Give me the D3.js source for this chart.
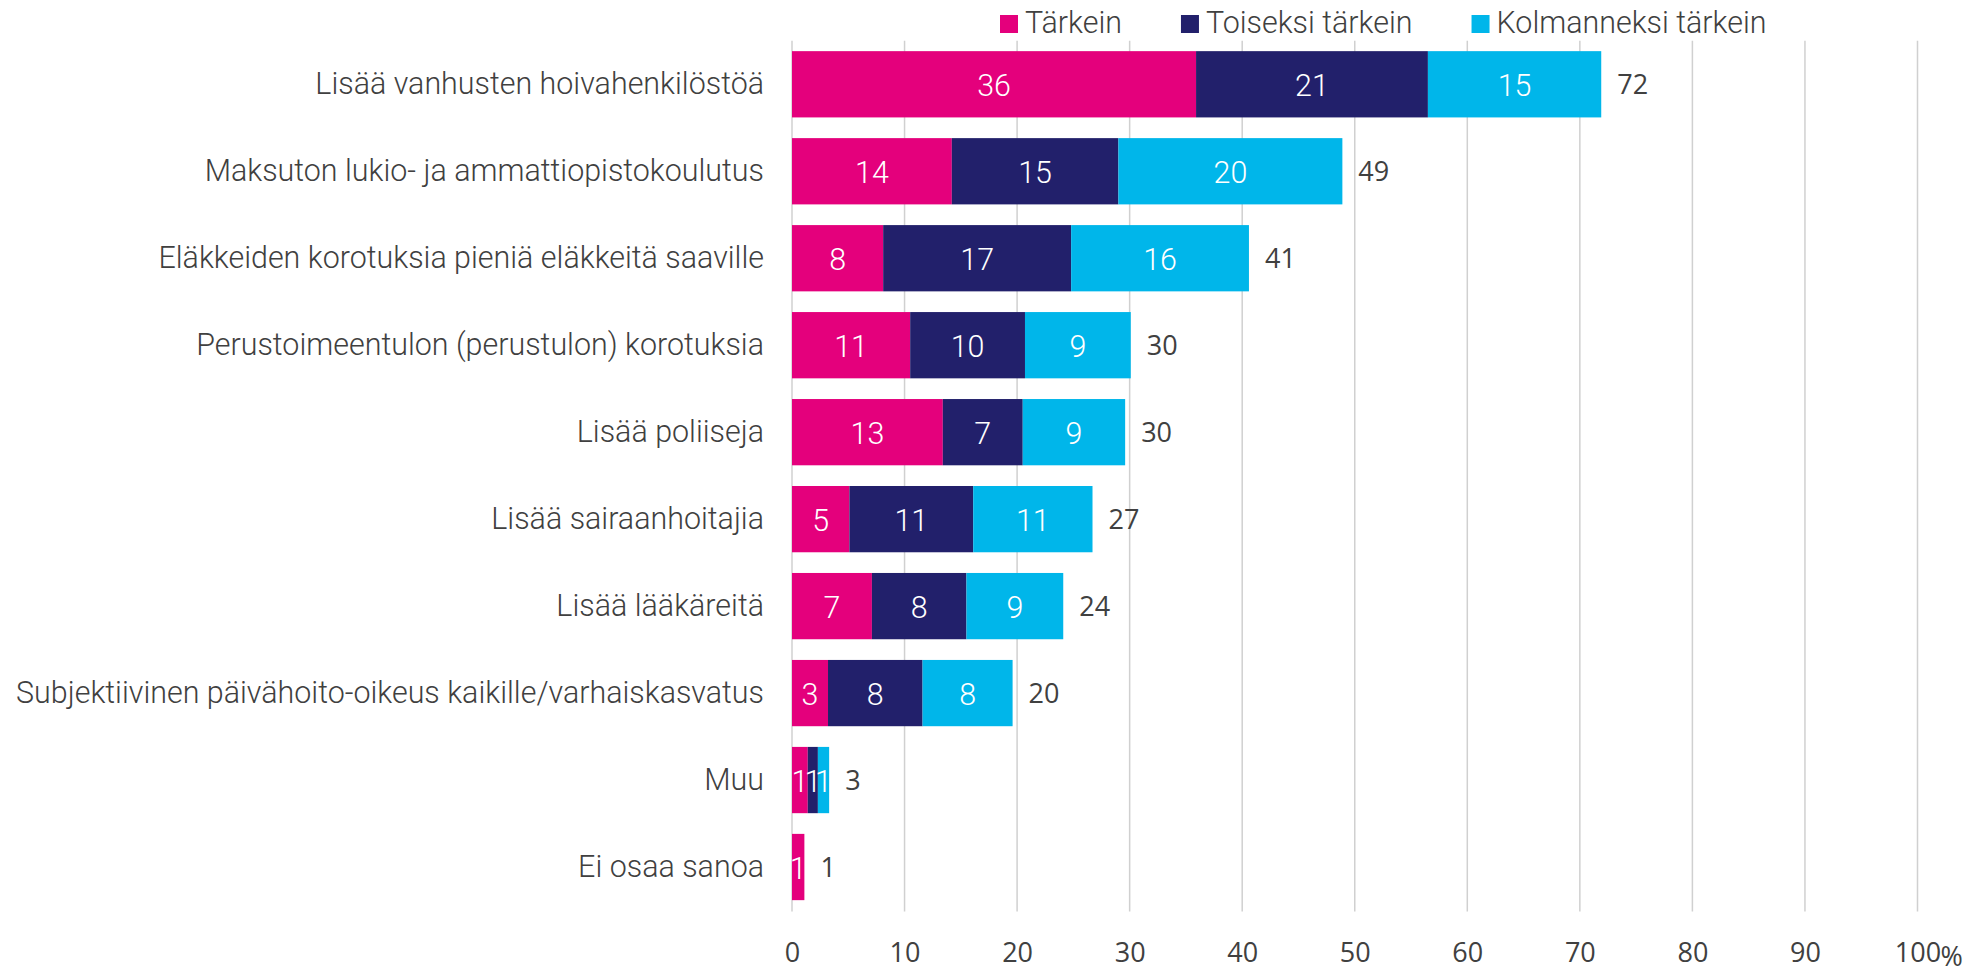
<!DOCTYPE html>
<html>
<head>
<meta charset="utf-8">
<title>Tärkeimmät asiat</title>
<script src="https://cdn.jsdelivr.net/npm/d3@7"></script>
<style>
body{
	margin: 0;
	background: #fff;
}
.cat{
	font-family: Roboto, "Noto Sans", sans-serif;
	font-weight: 300;
	font-size: 32px;
	fill: #404040;
}
.num{
	font-family: "Open Sans", sans-serif;
	font-size: 27px;
	fill: #404040;
}
</style>
</head>
<body>
<svg class="chart"></svg>
<script>

//data
var categories = [
	"Lisää vanhusten hoivahenkilöstöä",
	"Maksuton lukio- ja ammattiopistokoulutus",
	"Eläkkeiden korotuksia pieniä eläkkeitä saaville",
	"Perustoimeentulon (perustulon) korotuksia",
	"Lisää poliiseja",
	"Lisää sairaanhoitajia",
	"Lisää lääkäreitä",
	"Subjektiivinen päivähoito-oikeus kaikille/varhaiskasvatus",
	"Muu",
	"Ei osaa sanoa"
];
var seriesNames = ["Tärkein", "Toiseksi tärkein", "Kolmanneksi tärkein"];
var tarkein     = [35.9, 14.2, 8.1, 10.5, 13.4, 5.1, 7.1, 3.2, 1.4, 1.1];
var toiseksi    = [20.6, 14.8, 16.7, 10.2, 7.1, 11.0, 8.4, 8.4, 0.9, 0];
var kolmanneksi = [15.4, 19.9, 15.8, 9.4, 9.1, 10.6, 8.6, 8.0, 1.0, 0];
var xTicks = [0, 10, 20, 30, 40, 50, 60, 70, 80, 90, 100];

var colors = ["#e4007c", "#22206b", "#00b6ea"];

var rows = categories.map(function(c, i){
	return {cat: c, "Tärkein": tarkein[i], "Toiseksi tärkein": toiseksi[i], "Kolmanneksi tärkein": kolmanneksi[i],
		total: tarkein[i] + toiseksi[i] + kolmanneksi[i]};
});

var width = 1987;
var height = 970;

var svg = d3.select(".chart")
	.attr("width", width)
	.attr("height", height);

// the original face is a narrow one, so squeeze the wide fallback to the same width
var probe = svg.append("text").attr("class", "cat").text(categories[7]);
var squeeze = 748 / probe.node().getComputedTextLength();
probe.remove();

function narrow(sel, dx, dy){
	sel.attr("x", 0).attr("y", 0)
		.attr("transform", function(d){
			return "translate(" + dx(d) + "," + dy(d) + ") scale(" + squeeze + ",1)";
		});
}

var x = d3.scaleLinear()
	.domain([0, 100])
	.range([792, 1917.5]);

var y = d3.scaleBand()
	.domain(categories)
	.range([40.8, 910.5])
	.paddingInner(0.238)
	.paddingOuter(0.119);

// grid
svg.append("g")
	.selectAll("line")
	.data(xTicks)
	.enter()
	.append("line")
	.attr("x1", function(d){ return x(d); })
	.attr("x2", function(d){ return x(d); })
	.attr("y1", y.range()[0])
	.attr("y2", y.range()[1] + 1)
	.attr("stroke", "#d0d0d0")
	.attr("stroke-width", 1.5);

// x axis labels
var xAxis = d3.axisBottom(x).tickValues(xTicks).tickSize(0).tickPadding(0);
var gx = svg.append("g")
	.attr("transform", "translate(0,943)")
	.call(xAxis);
gx.select(".domain").remove();
gx.selectAll("text")
	.attr("class", "num")
	.attr("dy", "0.72em")
	.attr("fill", null);

svg.append("text")
	.attr("class", "num")
	.attr("x", x(100) + 23)
	.attr("y", 966)
	.text("%");

// y axis labels
var yAxis = d3.axisLeft(y).tickSize(0).tickPadding(28);
var gy = svg.append("g")
	.attr("transform", "translate(" + x(0) + ",0)")
	.call(yAxis);
gy.select(".domain").remove();
gy.selectAll("text")
	.attr("class", "cat")
	.attr("fill", null)
	.attr("dy", "0.3em")
	.call(narrow, function(){ return -28; }, function(){ return 0; });

// bars
var stack = d3.stack().keys(seriesNames);
var layers = stack(rows);

var layer = svg.append("g")
	.selectAll("g")
	.data(layers)
	.enter()
	.append("g")
	.attr("fill", function(d, i){ return colors[i]; });

layer.selectAll("rect")
	.data(function(d){ return d; })
	.enter()
	.append("rect")
	.attr("x", function(d){ return x(d[0]); })
	.attr("y", function(d){ return y(d.data.cat); })
	.attr("width", function(d){ return x(d[1]) - x(d[0]); })
	.attr("height", y.bandwidth());

layer.selectAll("text")
	.data(function(d){ return d.filter(function(e){ return e[1] - e[0] > 0; }); })
	.enter()
	.append("text")
	.attr("class", "cat")
	.style("fill", "#fff")
	.attr("text-anchor", "middle")
	.attr("dy", "0.36em")
	.text(function(d){ return Math.round(d[1] - d[0]); })
	.call(narrow,
		function(d){ return (x(d[0]) + x(d[1])) / 2; },
		function(d){ return y(d.data.cat) + y.bandwidth() / 2; });

// totals
svg.append("g")
	.selectAll("text")
	.data(rows)
	.enter()
	.append("text")
	.attr("class", "num")
	.attr("x", function(d){ return x(d.total) + 16; })
	.attr("y", function(d){ return y(d.cat) + y.bandwidth() / 2; })
	.attr("dy", "0.36em")
	.text(function(d){ return Math.round(d.total); });

// legend
var lx = 1000;
seriesNames.forEach(function(name, i){
	svg.append("rect")
		.attr("x", lx)
		.attr("y", 15)
		.attr("width", 18)
		.attr("height", 18)
		.attr("fill", colors[i]);
	var t = svg.append("text")
		.attr("class", "cat")
		.text(name)
		.call(narrow, function(){ return lx + 25; }, function(){ return 33; });
	lx = lx + 25 + t.node().getComputedTextLength() * squeeze + 59;
});

</script>
</body>
</html>
